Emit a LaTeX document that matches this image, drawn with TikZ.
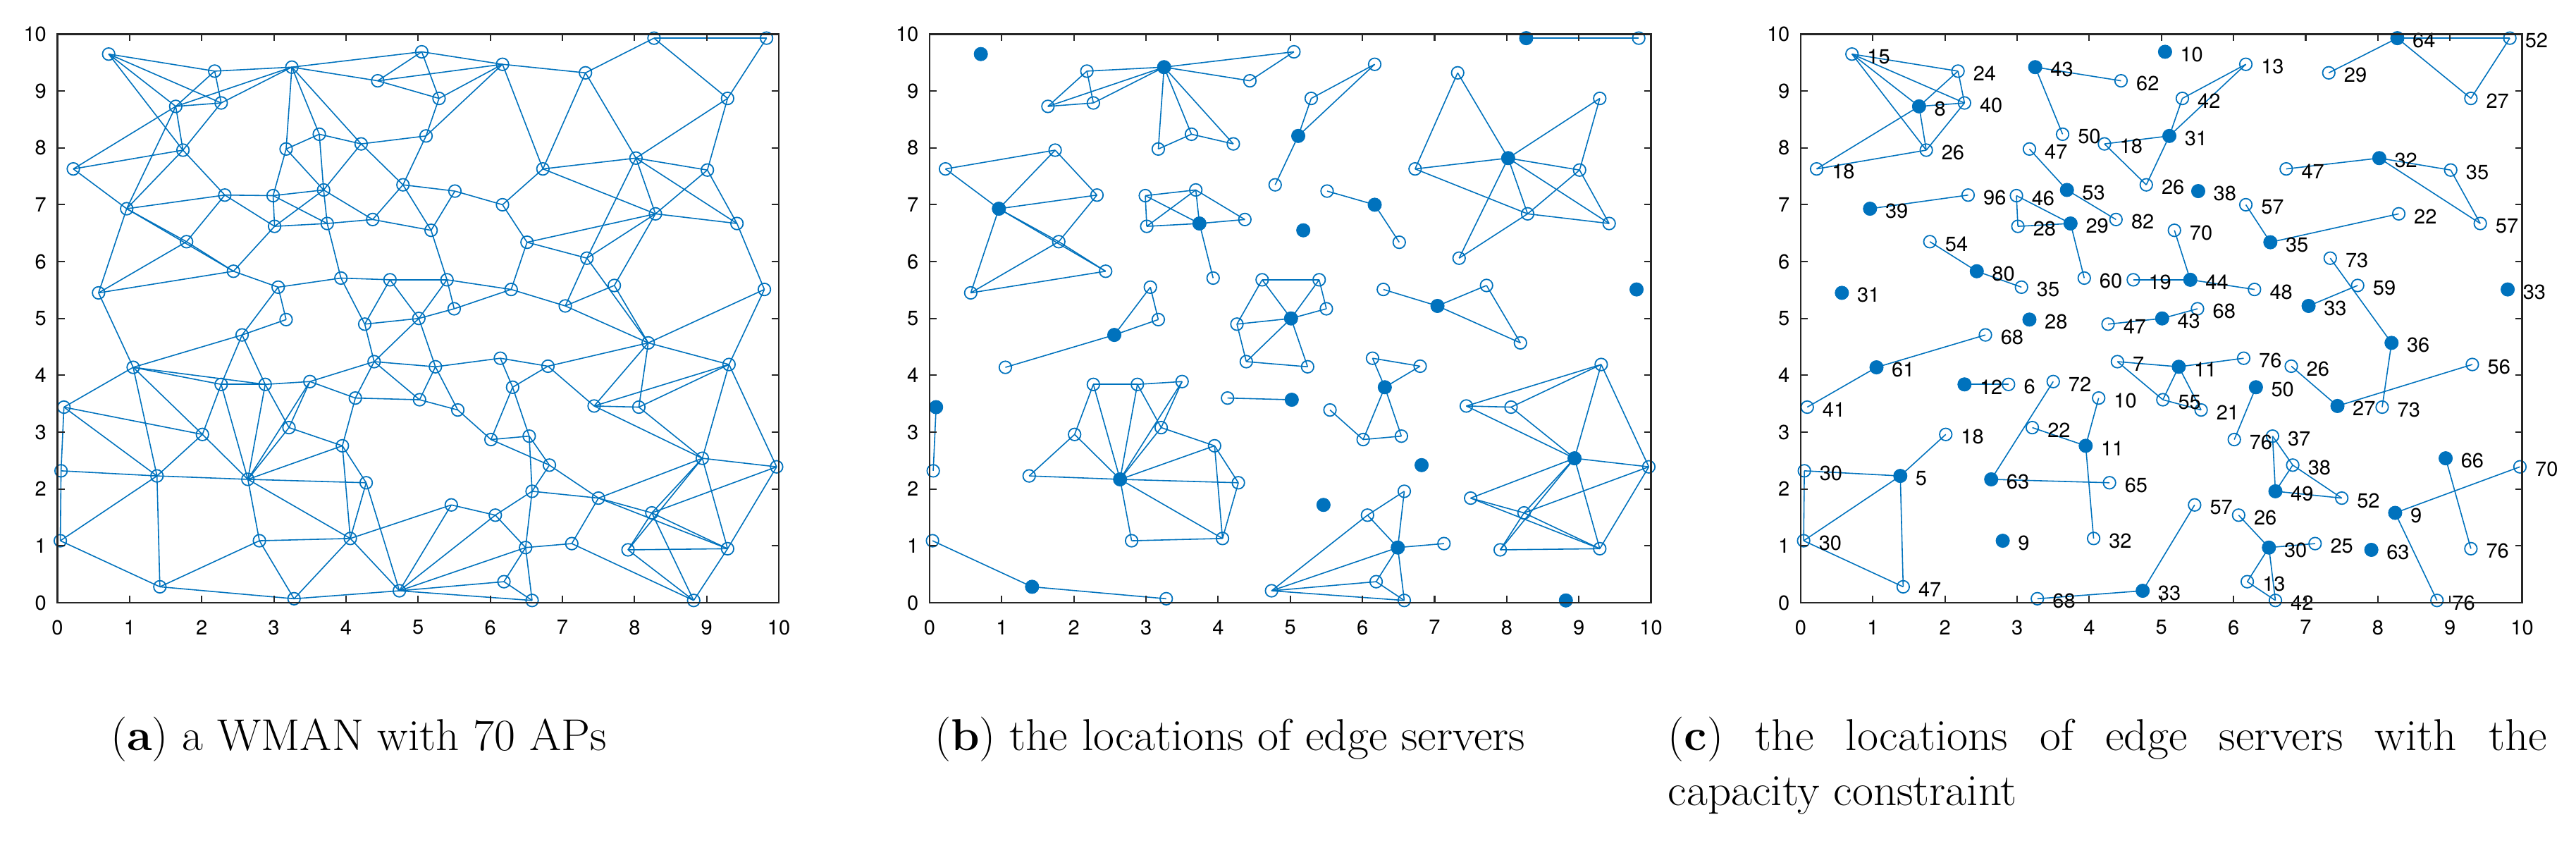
\documentclass[tikz,border=0pt]{standalone}
\usepackage{fontspec}
\usepackage{graphicx}
\newfontfamily\axfont{TeX Gyre Heros}
\definecolor{mblue}{RGB}{0,114,189}
\definecolor{axgray}{RGB}{38,38,38}
\def\APlist{1/0.71/9.65, 2/2.18/9.35, 3/3.25/9.42, 4/5.05/9.69, 5/4.44/9.18, 6/1.64/8.73, 7/2.27/8.79, 8/1.74/7.96, 9/0.22/7.63, 10/3.63/8.24, 11/3.17/7.98, 12/4.21/8.07, 13/5.11/8.21, 14/4.79/7.35, 15/0.96/6.93, 16/2.32/7.17, 17/2.99/7.16, 18/3.69/7.26, 19/3.74/6.67, 20/3.01/6.62, 21/4.37/6.74, 22/1.79/6.35, 23/2.44/5.83, 24/0.57/5.45, 25/3.06/5.55, 26/3.93/5.71, 27/4.61/5.68, 28/3.17/4.98, 29/4.26/4.90, 30/5.01/5.00, 31/2.56/4.71, 32/6.17/9.47, 33/7.32/9.32, 34/8.27/9.93, 35/9.83/9.93, 36/5.29/8.87, 37/9.29/8.87, 38/6.73/7.63, 39/8.02/7.82, 40/9.01/7.61, 41/5.51/7.24, 42/6.17/7.00, 43/5.18/6.55, 44/8.29/6.84, 45/9.42/6.67, 46/6.51/6.34, 47/7.34/6.06, 48/5.40/5.68, 49/6.29/5.51, 50/7.72/5.58, 51/9.80/5.51, 52/5.50/5.17, 53/7.04/5.22, 54/1.05/4.14, 55/4.39/4.24, 56/2.27/3.84, 57/2.88/3.84, 58/3.50/3.89, 59/4.13/3.60, 60/5.02/3.57, 61/0.09/3.44, 62/3.21/3.08, 63/2.01/2.96, 64/3.95/2.76, 65/0.05/2.32, 66/1.38/2.23, 67/2.64/2.17, 68/4.28/2.11, 69/0.04/1.09, 70/2.80/1.09, 71/4.06/1.13, 72/1.42/0.28, 73/3.28/0.07, 74/4.74/0.21, 75/6.14/4.30, 76/6.80/4.16, 77/5.24/4.15, 78/8.19/4.57, 79/9.31/4.19, 80/6.31/3.79, 81/5.55/3.39, 82/7.44/3.46, 83/8.06/3.44, 84/6.01/2.87, 85/6.54/2.93, 86/6.82/2.42, 87/8.94/2.54, 88/9.97/2.39, 89/6.58/1.96, 90/7.50/1.84, 91/5.46/1.72, 92/6.07/1.54, 93/8.24/1.58, 94/6.49/0.97, 95/7.13/1.04, 96/7.91/0.93, 97/9.29/0.95, 98/6.19/0.37, 99/6.58/0.04, 100/8.82/0.04}
\def\Aedges{1/2,1/6,1/7,1/8, 2/3,2/6,2/7, 3/4,3/5,3/6,3/7,3/10,3/11,3/12, 4/5,4/32,4/36, 5/32,5/36, 6/7,6/8,6/9,6/15, 7/8, 8/9,8/15,8/16, 9/15, 10/11,10/12,10/18, 11/17,11/18, 12/13,12/14,12/18, 13/14,13/32,13/36, 14/21,14/41,14/43, 15/16,15/22,15/23,15/24, 16/17,16/20,16/22, 17/18,17/19,17/20, 18/19,18/20,18/21, 19/20,19/21,19/26, 20/23, 21/43, 22/23,22/24, 23/24,23/25, 24/54, 25/26,25/28,25/31, 26/27,26/29, 27/29,27/30,27/48, 28/31, 29/30,29/55, 30/48,30/52,30/55,30/77, 31/54,31/56,31/57, 32/33,32/36,32/38, 33/34,33/38,33/39, 34/35,34/37, 35/37, 37/39,37/40, 38/39,38/42,38/44, 39/40,39/44,39/45,39/47, 40/44,40/45, 41/42,41/43, 42/46, 43/48, 44/45,44/46,44/47,44/50, 45/51, 46/47,46/49, 47/53,47/78, 48/49,48/52, 49/52,49/53, 50/53,50/78, 51/78,51/79, 53/78, 54/56,54/57,54/61,54/63,54/66, 55/58,55/59,55/60,55/77, 56/57,56/63,56/67, 57/58,57/62,57/67, 58/59,58/62,58/67, 59/60,59/64, 60/77,60/81, 61/63,61/65,61/66, 62/64,62/67, 63/66,63/67, 64/67,64/68,64/71, 65/66,65/69, 66/67,66/69,66/72, 67/68,67/70,67/71, 68/71,68/74, 69/72, 70/71,70/72,70/73, 71/73,71/74,71/91, 72/73, 73/74, 74/91,74/92,74/94,74/98,74/99, 75/76,75/77,75/80, 76/78,76/80,76/82, 77/81, 78/79,78/82,78/83, 79/82,79/83,79/87,79/88, 80/84,80/85, 81/84, 82/83,82/87, 83/87, 84/85,84/86, 85/86,85/89, 86/89,86/90, 87/88,87/90,87/93,87/96,87/97, 88/93,88/97, 89/90,89/92,89/94, 90/93,90/95,90/97, 91/92, 92/94, 93/96,93/97,93/100, 94/95,94/98,94/99, 95/100, 96/97,96/100, 97/100, 98/99}
\def\Bedges{2/3,2/6,2/7,3/4,3/5,3/6,3/7,3/10,3/11,3/12,4/5,6/7,10/11,10/12, 8/9,8/15,8/16,9/15,15/16,15/22,15/23,15/24,16/22,22/23,22/24,23/24, 17/18,17/19,17/20,18/19,18/20,18/21,19/20,19/21,19/26, 25/28,25/31,28/31,31/54, 27/29,27/30,27/48,29/30,29/55,30/48,30/52,30/55,30/77,48/52,55/77, 59/60,61/65, 56/57,56/63,56/67,57/58,57/62,57/67,58/62,58/67,62/64,62/67,63/66,63/67,64/67,64/68,64/71,66/67,67/68,67/70,67/71,68/71,70/71, 69/72,72/73, 13/14,13/32,13/36,32/36, 33/38,33/39,37/39,37/40,38/39,38/44,39/40,39/44,39/45,39/47,40/44,40/45,44/45,44/47, 41/42,42/46, 49/53,50/53,50/78,53/78, 75/76,75/80,76/80,80/84,80/85,81/84,84/85, 79/82,79/83,79/87,79/88,82/83,82/87,83/87,87/88,87/90,87/93,87/96,87/97,88/93,88/97,90/93,90/97,93/96,93/97,96/97, 74/92,74/94,74/98,74/99,89/92,89/94,92/94,94/95,94/98,94/99,98/99, 34/35}
\def\Bservers{1,3,13,15,19,30,31,34,39,42,43,51,53,60,61,67,72,80,86,87,91,94,100}
\def\Cedges{6/1,6/2,6/7,6/8,6/9,1/2,1/7,1/8,2/7,7/8,8/9, 3/5,3/10, 13/12,13/14,13/36,13/32,12/14,36/32, 15/16, 18/11,18/21, 19/17,19/20,19/26,17/20, 23/22,23/25, 30/29,30/52, 34/33,34/35,34/37,35/37, 39/38,39/40,39/45,40/45, 46/42,46/44, 48/27,48/43,48/49, 53/50, 54/31,54/61, 56/57, 64/59,64/62,64/71, 66/63,66/65,66/69,66/72,65/69,69/72, 67/58,67/68, 74/73,74/91, 77/55,77/60,77/75,77/81,55/60,60/81, 78/47,78/83, 80/84, 82/76,82/79, 87/97, 89/85,89/86,89/90,85/86,86/90, 93/88,93/100, 94/92,94/95,94/98,94/99,98/99}
\def\Cservers{3,4,6,13,15,18,19,23,24,28,30,34,39,41,46,48,51,53,54,56,64,66,67,70,74,77,78,80,82,87,89,93,94,96}
\def\Clabels{1/15,2/24,3/43,4/10,5/62,6/8,7/40,8/26,9/18,10/50,11/47,12/18,13/31,14/26,15/39,16/96,17/46,18/53,19/29,20/28,21/82,22/54,23/80,24/31,25/35,26/60,27/19,28/28,29/47,30/43,31/68,32/13,33/29,34/64,35/52,36/42,37/27,38/47,39/32,40/35,41/38,42/57,43/70,44/22,45/57,46/35,47/73,48/44,49/48,50/59,51/33,52/68,53/33,54/61,55/7,56/12,57/6,58/72,59/10,60/55,61/41,62/22,63/18,64/11,65/30,66/5,67/63,68/65,69/30,70/9,71/32,72/47,73/68,74/33,75/76,76/26,77/11,78/36,79/56,80/50,81/21,82/27,83/73,84/76,85/37,86/38,87/66,88/70,89/49,90/52,91/57,92/26,93/9,94/30,95/25,96/63,97/76,98/13,99/42,100/76}
\newcommand\drawaxesbox[1]{%
  \draw[axline] (0,0) rectangle (10,10);
  \foreach \t in {1,...,9} {
    \draw[axline] (\t,0) -- ++(0,0.1cm);
    \draw[axline] (\t,10) -- ++(0,-0.1cm);
    \draw[axline] (0,\t) -- ++(0.1cm,0);
    \draw[axline] (10,\t) -- ++(-0.1cm,0);
  }
  \foreach \t in {0,...,10} {
    \node[ticklab,anchor=north] (#1xt\t) at ([yshift=-0.24cm]\t,0) {\t};
    \node[ticklab,anchor=east] (#1yt\t) at ([xshift=-0.15cm]0,\t) {\t};
  }
}
\newcommand\capstretch[1]{\scalebox{1.03}[1]{#1}}
\begin{document}
\begin{tikzpicture}[
  apo/.style={circle,draw=mblue,line width=0.5pt,minimum size=0.175cm,inner sep=0pt},
  aps/.style={circle,fill=mblue,minimum size=0.2cm,inner sep=0pt},
  lnk/.style={draw=mblue,line width=0.45pt},
  axline/.style={draw=axgray,line width=0.6pt},
  ticklab/.style={font=\axfont\fontsize{8.25}{9}\selectfont,text=black,inner sep=0pt},
  numlab/.style={font=\axfont\fontsize{8.25}{9}\selectfont,text=black,inner sep=0pt,anchor=west},
  captext/.style={font=\fontsize{18}{22}\selectfont,inner sep=0pt}
]
\useasboundingbox (0,0) rectangle (36.55,11.93);
\fill[white] (0,0) rectangle (36.55,11.93);
% panel (a)
\begin{scope}[shift={(0.815,3.38)},x=1.0235cm,y=0.8065cm]
  \foreach \i/\x/\y in \APlist { \node[apo] (a\i) at (\x,\y) {}; }
  \foreach \u/\v in \Aedges { \draw[lnk] (a\u.center) -- (a\v.center); }
  \drawaxesbox{a}
\end{scope}
% panel (b)
\begin{scope}[shift={(13.19,3.38)},x=1.0235cm,y=0.8065cm]
  \foreach \i/\x/\y in \APlist { \node[apo] (b\i) at (\x,\y) {}; }
  \foreach \u/\v in \Bedges { \draw[lnk] (b\u.center) -- (b\v.center); }
  \foreach \i in \Bservers { \node[aps] (bs\i) at (b\i.center) {}; }
  \drawaxesbox{b}
\end{scope}
% panel (c)
\begin{scope}[shift={(25.55,3.38)},x=1.0235cm,y=0.8065cm]
  \foreach \i/\x/\y in \APlist { \node[apo] (c\i) at (\x,\y) {}; }
  \foreach \u/\v in \Cedges { \draw[lnk] (c\u.center) -- (c\v.center); }
  \foreach \i in \Cservers { \node[aps] (cs\i) at (c\i.center) {}; }
  \foreach \i/\l in \Clabels { \node[numlab] (cl\i) at ([xshift=0.21cm,yshift=-0.035cm]c\i.center) {\l}; }
  \drawaxesbox{c}
\end{scope}
% captions
\node[captext,anchor=base] (capa) at (5.09,1.28) {\capstretch{(\textbf{a}) a WMAN with 70 APs}};
\node[captext,anchor=base] (capb) at (17.45,1.28) {\capstretch{(\textbf{b}) the locations of edge servers}};
\node[captext,anchor=base west] (capc1) at (23.66,1.28) {\capstretch{\makebox[12.11cm][s]{(\textbf{c}) the locations of edge servers with the}}};
\node[captext,anchor=base west] (capc2) at (23.66,0.50) {\capstretch{capacity constraint}};
\end{tikzpicture}
\end{document}
